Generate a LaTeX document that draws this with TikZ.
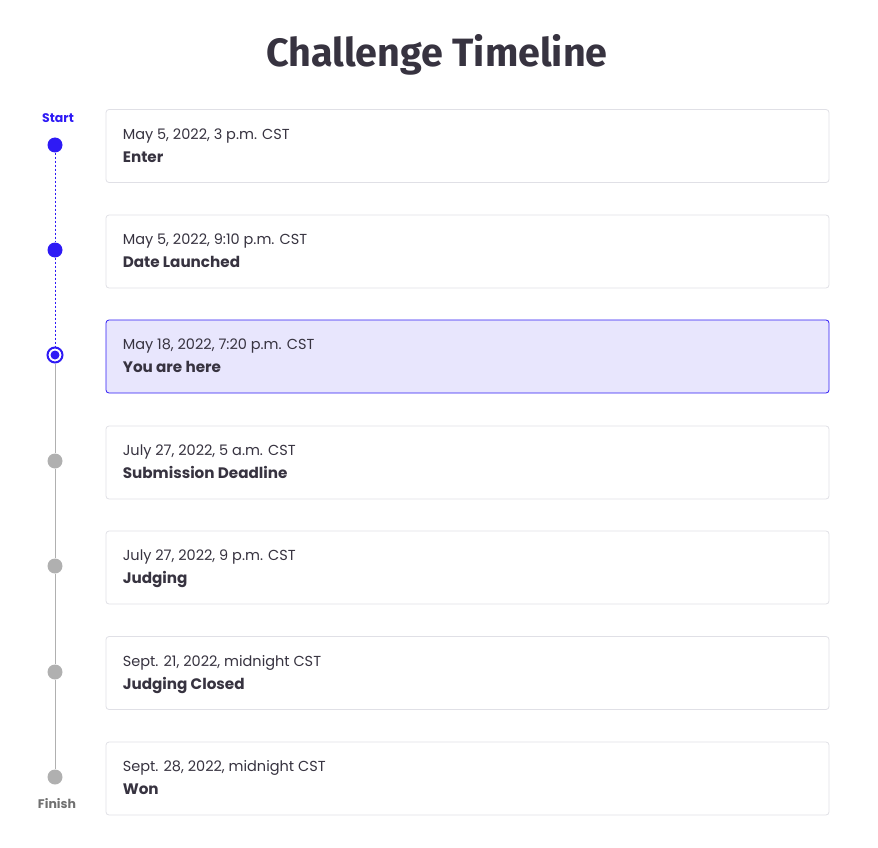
\documentclass[tikz,border=0pt]{standalone}
\usepackage{fontspec}
\setmainfont{Poppins}
\newfontfamily\headfont{Fira Sans}
\usetikzlibrary{positioning}
\definecolor{tlblue}{RGB}{46,26,245}
\definecolor{tlgray}{RGB}{176,176,176}
\definecolor{tlink}{RGB}{55,51,64}
\definecolor{tlborder}{RGB}{224,224,230}
\definecolor{tlhere}{RGB}{232,230,253}
\definecolor{tlfinish}{RGB}{112,112,112}

\begin{document}
\begin{tikzpicture}
        [x=1pt,y=-1pt,every node/.style={inner sep=0,text=tlink},
         done/.style={circle,fill=tlblue,minimum size=15pt},
         todo/.style={circle,fill=tlgray,minimum size=15pt},
         card/.style={draw=tlborder,fill=white,rounded corners=3pt,minimum width=723pt,minimum height=73pt,line width=0.8pt},
         when/.style={anchor=base west,font=\fontsize{14.5}{17}\selectfont},
         what/.style={anchor=base west,font=\fontsize{15.2}{18}\selectfont\bfseries}]

        \useasboundingbox (0,0) rectangle (878,848);

        \node[anchor=base,font=\headfont\fontsize{39.5}{46}\selectfont\bfseries] (title) at (437,67) {Challenge Timeline};

        % dots
        \node[done] (v1) at (55,145) {};
        \node[done] (v2) at (55,250) {};
        \node[circle,draw=tlblue,line width=2pt,fill=white,minimum size=15pt] (v3) at (55,355) {};
        \node[circle,fill=tlblue,minimum size=9pt] (v3i) at (v3) {};
        \node[todo] (v4) at (55,461) {};
        \node[todo] (v5) at (55,566) {};
        \node[todo] (v6) at (55,672) {};
        \node[todo] (v7) at (55,777) {};

        \node[font=\fontsize{12.5}{14}\selectfont\bfseries,text=tlblue] (start) at (58,118) {Start};
        \node[font=\fontsize{12.5}{14}\selectfont\bfseries,text=tlfinish] (finish) at (57,804) {Finish};

        \draw[tlblue,line width=1pt,dash pattern=on 2pt off 2pt] (v1) -- (v2);
        \draw[tlblue,line width=1pt,dash pattern=on 2pt off 2pt] (v2) -- (v3);
        \draw[tlgray,line width=1pt] (v3) -- (v4);
        \draw[tlgray,line width=1pt] (v4) -- (v5);
        \draw[tlgray,line width=1pt] (v5) -- (v6);
        \draw[tlgray,line width=1pt] (v6) -- (v7);

        % cards
        \node[card] (c1) at (467.5,146) {};
        \node[card] (c2) at (467.5,251.5) {};
        \node[card,draw=tlblue,fill=tlhere] (c3) at (467.5,356.5) {};
        \node[card] (c4) at (467.5,462.5) {};
        \node[card] (c5) at (467.5,567.5) {};
        \node[card] (c6) at (467.5,673) {};
        \node[card] (c7) at (467.5,778.5) {};

        \node[when] (d1) at ([xshift=17pt,yshift=-30pt]c1.north west) {May 5, 2022, 3 p.m. CST};
        \node[what] (e1) at ([xshift=17pt,yshift=-53pt]c1.north west) {Enter};
        \node[when] (d2) at ([xshift=17pt,yshift=-30pt]c2.north west) {May 5, 2022, 9:10 p.m. CST};
        \node[what] (e2) at ([xshift=17pt,yshift=-53pt]c2.north west) {Date Launched};
        \node[when] (d3) at ([xshift=17pt,yshift=-30pt]c3.north west) {May 18, 2022, 7:20 p.m. CST};
        \node[what] (e3) at ([xshift=17pt,yshift=-53pt]c3.north west) {You are here};
        \node[when] (d4) at ([xshift=17pt,yshift=-30pt]c4.north west) {July 27, 2022, 5 a.m. CST};
        \node[what] (e4) at ([xshift=17pt,yshift=-53pt]c4.north west) {Submission Deadline};
        \node[when] (d5) at ([xshift=17pt,yshift=-30pt]c5.north west) {July 27, 2022, 9 p.m. CST};
        \node[what] (e5) at ([xshift=17pt,yshift=-53pt]c5.north west) {Judging};
        \node[when] (d6) at ([xshift=17pt,yshift=-30pt]c6.north west) {Sept. 21, 2022, midnight CST};
        \node[what] (e6) at ([xshift=17pt,yshift=-53pt]c6.north west) {Judging Closed};
        \node[when] (d7) at ([xshift=17pt,yshift=-30pt]c7.north west) {Sept. 28, 2022, midnight CST};
        \node[what] (e7) at ([xshift=17pt,yshift=-53pt]c7.north west) {Won};

      \end{tikzpicture}
\end{document}
